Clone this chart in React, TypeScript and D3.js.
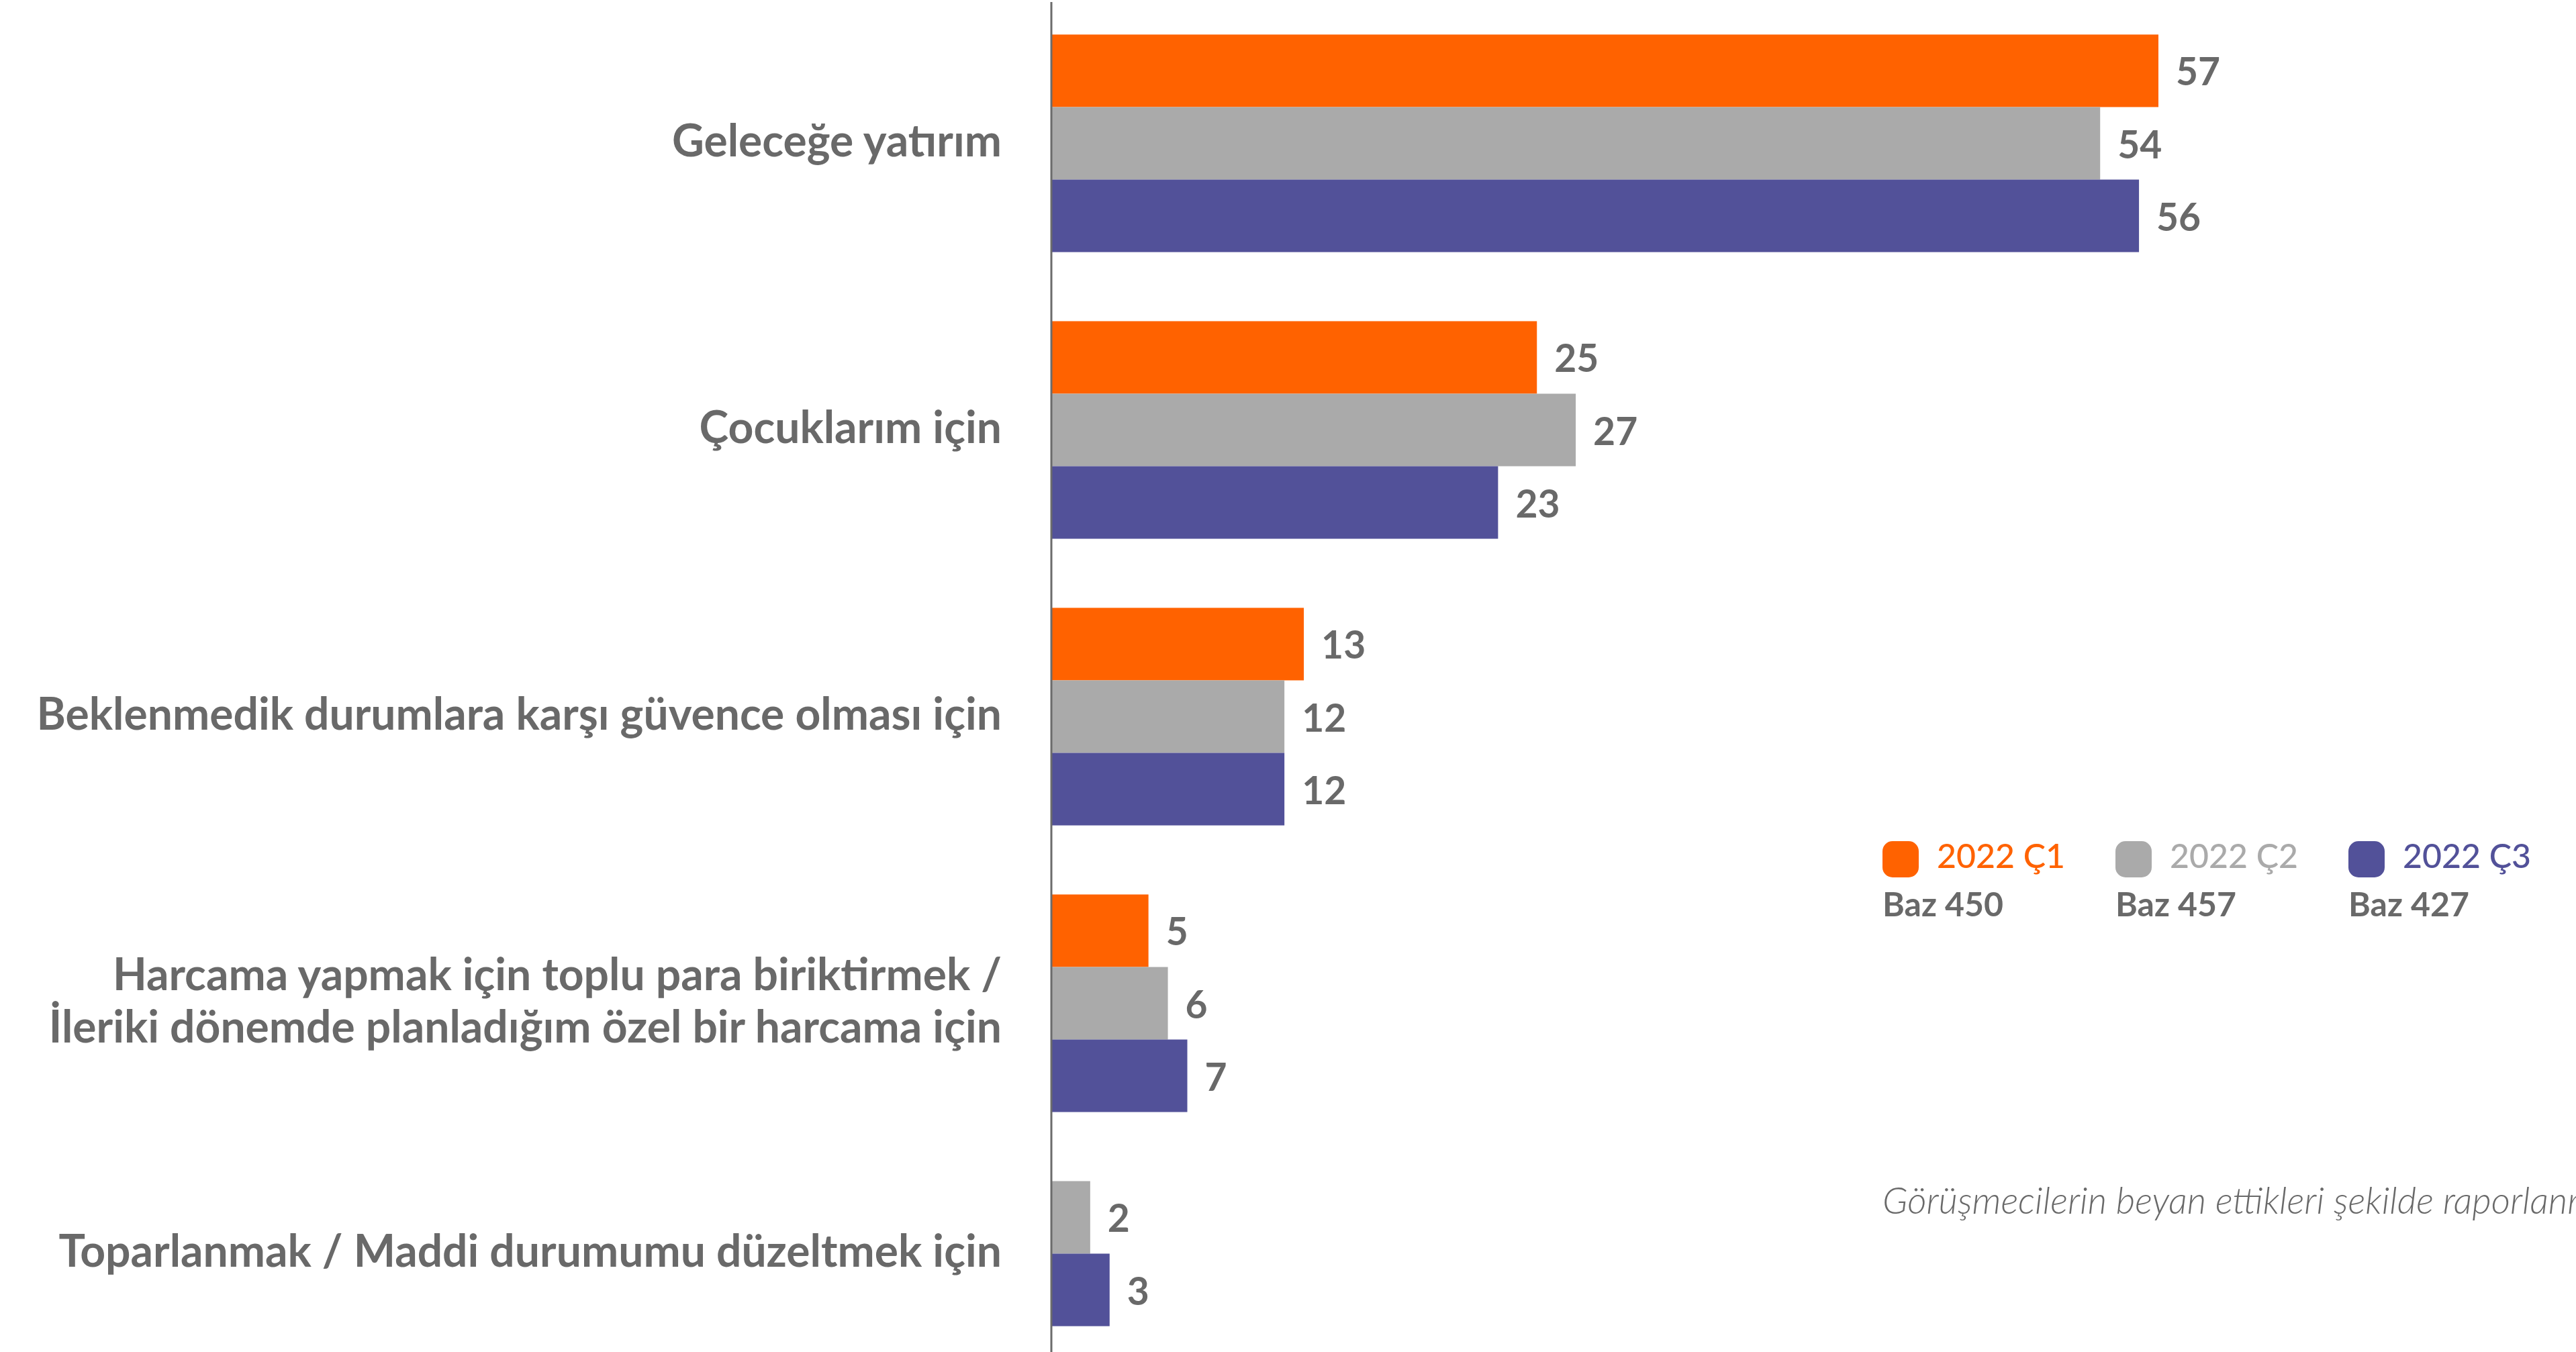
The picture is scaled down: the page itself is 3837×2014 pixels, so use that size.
import * as d3 from "d3";

const W = 3837;
const H = 2014;

const categories = [
  "Geleceğe yatırım",
  "Çocuklarım için",
  "Beklenmedik durumlara karşı güvence olması için",
  "Harcama yapmak için toplu para biriktirmek /\nİleriki dönemde planladığım özel bir harcama için",
  "Toparlanmak / Maddi durumumu düzeltmek için",
];

const q1: (number | null)[] = [57, 25, 13, 5, null];
const q2: (number | null)[] = [54, 27, 12, 6, 2];
const q3: (number | null)[] = [56, 23, 12, 7, 3];

const seriesNames = ["2022 Ç1", "2022 Ç2", "2022 Ç3"];
const baseLabels = ["Baz 450", "Baz 457", "Baz 427"];
const colors = ["#FF6200", "#AAAAAA", "#525199"];

const footnote = "Görüşmecilerin beyan ettikleri şekilde raporlanmıştır.";

const textColor = "#696969";
const font = "Lato, 'Open Sans', sans-serif";

const axisX = 1566;

const x = d3.scaleLinear().domain([0, 57]).range([axisX, 3215]);
const y = d3
  .scaleBand<string>()
  .domain(categories)
  .range([0, 2135])
  .paddingInner(0.241)
  .paddingOuter(0.1205);
const slot = d3.scaleBand<number>().domain([0, 1, 2]).range([0, y.bandwidth()]);

const allSeries = [q1, q2, q3];

export default function App() {
  return (
    <svg
      width={W}
      height={H}
      style={{ position: "absolute", left: 0, top: 0, background: "#fff" }}
      fontFamily={font}
    >
      {categories.map((cat, ci) => {
        const present = allSeries
          .map((s, si) => ({ v: s[ci], si }))
          .filter((d) => d.v !== null) as { v: number; si: number }[];
        const top = y(cat)!;
        const mid = top + (present.length * slot.bandwidth()) / 2;
        const lines = cat.split("\n");
        const lineH = 78;
        return (
          <g key={cat}>
            {present.map((d, k) => {
              const by = top + slot(k)!;
              return (
                <g key={d.si}>
                  <rect
                    x={axisX}
                    y={by}
                    width={x(d.v) - axisX}
                    height={slot.bandwidth()}
                    fill={colors[d.si]}
                  />
                  <text
                    x={x(d.v) + 26}
                    y={by + slot.bandwidth() / 2}
                    dominantBaseline="central"
                    fontSize={57}
                    fontWeight={700}
                    fill={textColor}
                  >
                    {d.v}
                  </text>
                </g>
              );
            })}
            {lines.map((ln, li) => (
              <text
                key={li}
                x={1492}
                y={mid - 6 + (li - (lines.length - 1) / 2) * lineH}
                dominantBaseline="central"
                textAnchor="end"
                fontSize={66}
                fontWeight={700}
                fill={textColor}
              >
                {ln}
              </text>
            ))}
          </g>
        );
      })}

      <line x1={axisX} x2={axisX} y1={3} y2={H} stroke="#6b6b6b" strokeWidth={3} />

      {seriesNames.map((name, i) => {
        const lx = 2804 + i * 347;
        return (
          <g key={name}>
            <rect x={lx} y={1253} width={54} height={54} rx={15} fill={colors[i]} />
            <text x={lx + 81} y={1293} fontSize={50} fill={colors[i]} fontWeight={500}>
              {name}
            </text>
            <text x={lx} y={1365} fontSize={50} fontWeight={700} fill={textColor}>
              {baseLabels[i]}
            </text>
          </g>
        );
      })}

      <text
        x={2804}
        y={1808}
        fontSize={55}
        fontStyle="italic"
        fontWeight={300}
        fill={textColor}
      >
        {footnote}
      </text>
    </svg>
  );
}
